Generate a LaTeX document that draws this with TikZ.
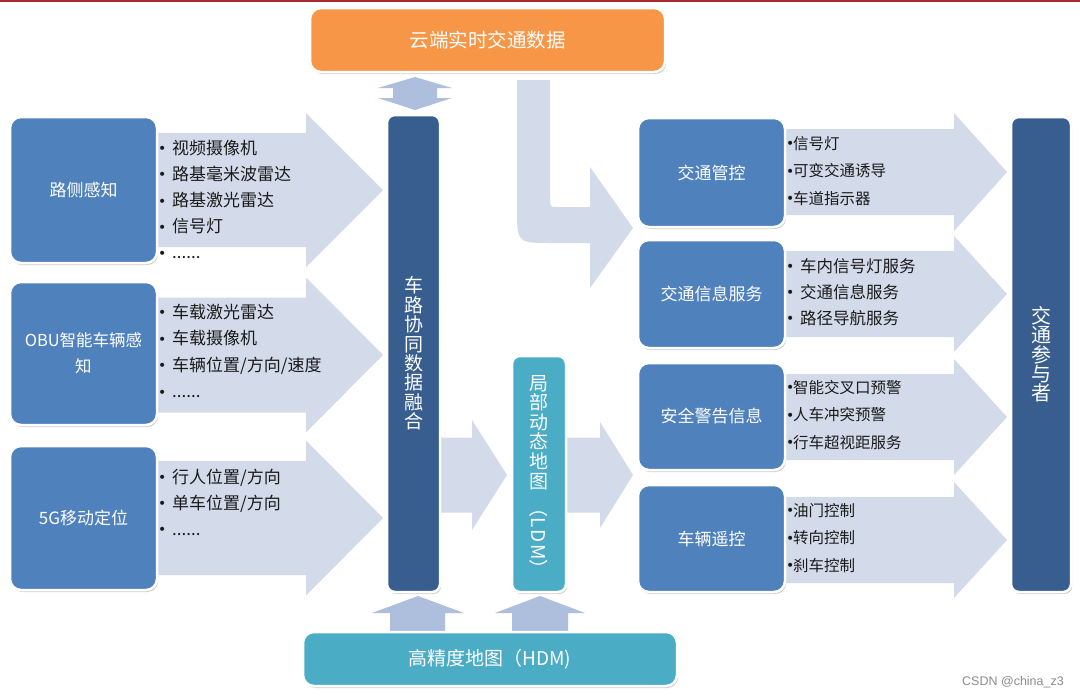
\documentclass[tikz,border=0pt]{standalone}
\usepackage{fontspec}
\usepackage{graphicx}
\setmainfont{Noto Sans CJK SC}
\newfontfamily\bulfont{DejaVu Sans}
\newfontfamily\wmfont{Liberation Sans}
\usetikzlibrary{shadows}
\definecolor{boxblue}{HTML}{4F81BD}
\definecolor{bardark}{HTML}{385E90}
\definecolor{tealbox}{HTML}{4BACC6}
\definecolor{orangebox}{HTML}{F79646}
\definecolor{arrowlight}{HTML}{D3DBEA}
\definecolor{arrowdark}{HTML}{ADBFDC}
\definecolor{topred}{HTML}{A8292F}
\definecolor{listtext}{HTML}{1A1A1A}
\newcommand\rblk[7]{\fill[#1] (#2,#5-#6) -- (#3,#5-#6) -- (#3,#5-#7) -- (#4,#5) -- (#3,#5+#7) -- (#3,#5+#6) -- (#2,#5+#6) -- cycle;}
\newcommand\bul[2]{\makebox[#1][l]{\raisebox{#2}{\bulfont\fontsize{14}{14}\selectfont •}}}
\newcommand\tightlines{\lineskiplimit=-30pt\relax}
\newcommand\sixdots{......}
\tikzset{
  shad/.style={drop shadow={shadow xshift=1.2pt, shadow yshift=-2pt, opacity=0.2, fill=black}},
  panel/.style={rectangle, rounded corners=11pt, draw=white, line width=2.5pt, shad, text=white, inner sep=0pt, align=center},
  srcbox/.style={panel, fill=boxblue, minimum width=147pt, font=\fontsize{17}{26}\selectfont},
  vbar/.style={panel, rounded corners=8pt, font=\fontsize{19}{19.4}\selectfont\tightlines},
  vtext/.style={inner sep=0pt, text=white, align=center, font=\fontsize{19}{19.6}\selectfont\tightlines},
  bigarrow/.style={fill=arrowlight},
  smallarrow/.style={fill=arrowdark},
  litem/.style={anchor=base west, inner sep=0pt, text=listtext, font=\fontsize{17}{20}\selectfont},
  ritem/.style={anchor=base west, inner sep=0pt, text=listtext, font=\fontsize{15.5}{20}\selectfont},
  ritemb/.style={anchor=base west, inner sep=0pt, text=listtext, font=\fontsize{16.5}{20}\selectfont},
}
\begin{document}
\begin{tikzpicture}[x=1pt,y=-1pt]
\useasboundingbox (0,0) rectangle (1080,697);
\fill[white] (0,0) rectangle (1080,697);
\fill[topred] (0,0) rectangle (1080,2);

% ---- block arrows (background) ----
\rblk{bigarrow}{150}{306}{383}{190}{57}{77}
\rblk{bigarrow}{150}{306}{383}{355}{57.5}{77.5}
\rblk{bigarrow}{150}{306}{383}{518}{57}{77.5}
\rblk{bigarrow}{438}{472}{507}{475}{37.5}{55}
\rblk{bigarrow}{564}{600}{633}{475}{37.5}{53}
\rblk{bigarrow}{780}{954}{1007}{172}{43}{59}
\rblk{bigarrow}{780}{954}{1007}{294}{43}{58}
\rblk{bigarrow}{780}{954}{1007}{417}{43}{58}
\rblk{bigarrow}{780}{954}{1007}{540}{43}{58}
% U-turn arrow from cloud to traffic control
\fill[bigarrow] (517,80) -- (550,80) -- (550,199) .. controls (550,207) .. (558,207)
  -- (590,207) -- (590,167) -- (633,228) -- (590,288) -- (590,243) -- (552,243)
  .. controls (517,243) .. (517,208) -- cycle;
% double arrow cloud <-> fusion
\fill[smallarrow] (415,77) -- (452,88) -- (437,88) -- (437,98) -- (452,98) -- (415,110)
  -- (378,98) -- (393,98) -- (393,88) -- (378,88) -- cycle;
% up arrows from HDM
\fill[smallarrow] (418,596) -- (464,613) -- (445,613) -- (445,634) -- (390,634) -- (390,613) -- (372,613) -- cycle;
\fill[smallarrow] (540,596) -- (585,613) -- (568,613) -- (568,634) -- (512,634) -- (512,613) -- (495,613) -- cycle;

% ---- boxes ----
\node[panel, fill=orangebox, minimum width=355pt, minimum height=64pt, font=\fontsize{19.5}{22}\selectfont] (cloud) at (487.5,40) {云端实时交通数据};
\node[srcbox, minimum height=146pt] (rsense) at (83.5,190) {路侧感知};
\node[srcbox, minimum height=143pt, font=\fontsize{16.5}{26}\selectfont] (obu) at (83.5,353.5) {OBU智能车辆感\\知};
\node[srcbox, minimum height=144pt] (g5) at (83.5,518) {5G移动定位};

\node[vbar, fill=bardark, minimum width=53pt, minimum height=477pt] (fusion) at (413.5,353.5) {车\\路\\协\\同\\数\\据\\融\\合};
\node[vbar, fill=tealbox, minimum width=54pt, minimum height=236pt] (ldm) at (539,474) {};
\node[vtext, anchor=north] (ldmtxt) at (539,375) {局\\部\\动\\态\\地\\图\\[-9pt]\rotatebox{-90}{（L\kern1.5pt D\kern1.5pt M）}};
\node[vbar, fill=bardark, minimum width=60pt, minimum height=475pt, font=\fontsize{20}{19.3}\selectfont\tightlines] (part) at (1041,354.5) {交\\通\\参\\与\\者};

\node[srcbox, minimum height=109pt] (ctrl) at (711.5,172.5) {交通管控};
\node[srcbox, minimum height=108pt] (info) at (711.5,294) {交通信息服务};
\node[srcbox, minimum height=107pt] (safe) at (711.5,416.5) {安全警告信息};
\node[srcbox, minimum height=107pt] (remote) at (711.5,538.5) {车辆遥控};

\node[panel, fill=tealbox, minimum width=374pt, minimum height=54pt, font=\fontsize{19}{22}\selectfont] (hdm) at (490,659) {高精度地图（HDM)};

% ---- lists ----
\foreach \t [count=\i from 0] in {视频摄像机,路基毫米波雷达,路基激光雷达,信号灯,\sixdots}
  \node[litem] (la\i) at (158,154+26.2*\i) {\bul{14pt}{0.4pt}\t};
\foreach \t [count=\i from 0] in {车载激光雷达,车载摄像机,车辆位置/方向/速度,\sixdots}
  \node[litem] (lb\i) at (158,318+26.5*\i) {\bul{14pt}{0.4pt}\t};
\foreach \t [count=\i from 0] in {行人位置/方向,单车位置/方向,\sixdots}
  \node[litem] (lc\i) at (158,483+26*\i) {\bul{14pt}{0.4pt}\t};

\foreach \t [count=\i from 0] in {信号灯,可变交通诱导,车道指示器}
  \node[ritem] (ra\i) at (786,149+27.5*\i) {\bul{7pt}{0.1pt}\t};
\foreach \t [count=\i from 0] in {车内信号灯服务,交通信息服务,路径导航服务}
  \node[ritemb] (rb\i) at (786,272+26*\i) {\bul{14pt}{0.2pt}\t};
\foreach \t [count=\i from 0] in {智能交叉口预警,人车冲突预警,行车超视距服务}
  \node[ritem] (rc\i) at (786,393+27.5*\i) {\bul{7pt}{0.1pt}\t};
\foreach \t [count=\i from 0] in {油门控制,转向控制,刹车控制}
  \node[ritem] (rd\i) at (786,516+27.5*\i) {\bul{7pt}{0.1pt}\t};

% watermark text
\node[inner sep=0pt, text=black!45, font=\wmfont\fontsize{12.5}{14}\selectfont] (csdn) at (1013,682) {CSDN @china\_z3};
\end{tikzpicture}
\end{document}
